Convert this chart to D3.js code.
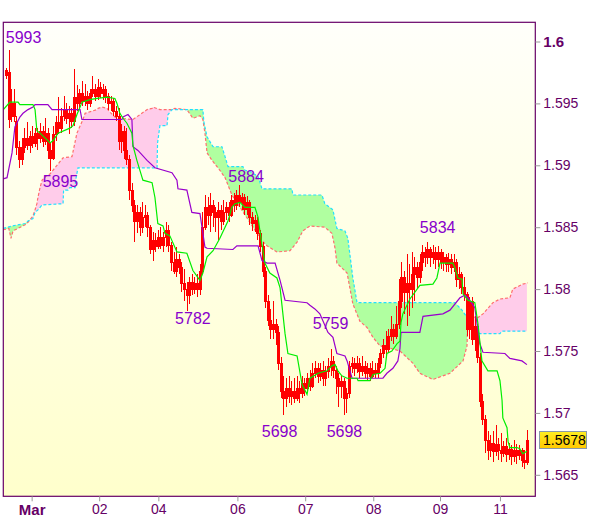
<!DOCTYPE html>
<html><head><meta charset="utf-8">
<script src="https://cdn.jsdelivr.net/npm/d3@7"></script>
<style>body{margin:0;background:#fff}svg{display:block}text{font-family:"Liberation Sans",Arial,sans-serif}</style>
</head><body><svg id="c" width="600" height="519"></svg>
<script>
const open=[1.5973,1.5975,1.5940,1.5950,1.5936,1.5915,1.5905,1.5915,1.5922,1.5916,
1.5924,1.5918,1.5926,1.5922,1.5928,1.5920,1.5926,1.5912,1.5906,1.5925,
1.5935,1.5930,1.5940,1.5945,1.5938,1.5942,1.5936,1.5955,1.5950,1.5958,
1.5952,1.5956,1.5950,1.5958,1.5962,1.5956,1.5963,1.5958,1.5962,1.5956,
1.5950,1.5952,1.5944,1.5940,1.5920,1.5928,1.5912,1.5905,1.5880,1.5868,
1.5855,1.5862,1.5850,1.5858,1.5860,1.5850,1.5832,1.5840,1.5835,1.5842,
1.5836,1.5842,1.5848,1.5836,1.5822,1.5815,1.5824,1.5818,1.5805,1.5800,
1.5795,1.5806,1.5800,1.5805,1.5800,1.5815,1.5850,1.5866,1.5860,1.5868,
1.5862,1.5858,1.5864,1.5855,1.5862,1.5866,1.5860,1.5872,1.5868,1.5876,
1.5870,1.5874,1.5865,1.5870,1.5858,1.5853,1.5856,1.5845,1.5835,1.5815,
1.5790,1.5775,1.5768,1.5772,1.5765,1.5740,1.5718,1.5712,1.5720,1.5714,
1.5718,1.5712,1.5720,1.5716,1.5724,1.5720,1.5728,1.5722,1.5732,1.5736,
1.5730,1.5735,1.5728,1.5734,1.5738,1.5742,1.5735,1.5728,1.5722,1.5726,
1.5712,1.5716,1.5738,1.5740,1.5736,1.5740,1.5734,1.5738,1.5732,1.5736,
1.5730,1.5735,1.5732,1.5740,1.5748,1.5755,1.5752,1.5762,1.5768,1.5762,
1.5772,1.5790,1.5810,1.5798,1.5805,1.5800,1.5812,1.5818,1.5810,1.5822,
1.5830,1.5826,1.5832,1.5826,1.5830,1.5824,1.5830,1.5822,1.5826,1.5820,
1.5824,1.5818,1.5822,1.5808,1.5812,1.5802,1.5796,1.5768,1.5790,1.5760,
1.5770,1.5745,1.5710,1.5695,1.5678,1.5670,1.5676,1.5669,1.5675,1.5670,
1.5668,1.5673,1.5667,1.5671,1.5665,1.5670,1.5666,1.5670,1.5662,1.5660];
const close=[1.5977,1.5937,1.5950,1.5940,1.5915,1.5905,1.5915,1.5922,1.5916,1.5924,
1.5918,1.5926,1.5922,1.5928,1.5920,1.5926,1.5912,1.5906,1.5925,1.5935,
1.5930,1.5940,1.5945,1.5938,1.5942,1.5936,1.5955,1.5950,1.5958,1.5952,
1.5956,1.5950,1.5958,1.5962,1.5956,1.5963,1.5958,1.5962,1.5956,1.5950,
1.5952,1.5944,1.5940,1.5920,1.5928,1.5912,1.5905,1.5880,1.5868,1.5855,
1.5862,1.5850,1.5858,1.5860,1.5850,1.5832,1.5840,1.5835,1.5842,1.5836,
1.5842,1.5848,1.5836,1.5822,1.5815,1.5824,1.5818,1.5805,1.5800,1.5795,
1.5806,1.5800,1.5805,1.5800,1.5815,1.5850,1.5866,1.5860,1.5868,1.5862,
1.5858,1.5864,1.5855,1.5862,1.5866,1.5860,1.5872,1.5868,1.5876,1.5870,
1.5874,1.5865,1.5870,1.5858,1.5853,1.5856,1.5845,1.5835,1.5815,1.5790,
1.5775,1.5768,1.5772,1.5765,1.5740,1.5718,1.5712,1.5720,1.5714,1.5718,
1.5712,1.5720,1.5716,1.5724,1.5720,1.5728,1.5722,1.5732,1.5736,1.5730,
1.5735,1.5728,1.5734,1.5738,1.5742,1.5735,1.5728,1.5722,1.5726,1.5712,
1.5716,1.5738,1.5740,1.5736,1.5740,1.5734,1.5738,1.5732,1.5736,1.5730,
1.5735,1.5732,1.5740,1.5748,1.5755,1.5752,1.5762,1.5768,1.5762,1.5772,
1.5790,1.5810,1.5798,1.5805,1.5800,1.5812,1.5818,1.5810,1.5822,1.5830,
1.5826,1.5832,1.5826,1.5830,1.5824,1.5830,1.5822,1.5826,1.5820,1.5824,
1.5818,1.5822,1.5808,1.5812,1.5802,1.5796,1.5768,1.5790,1.5760,1.5770,
1.5745,1.5710,1.5695,1.5678,1.5670,1.5676,1.5669,1.5675,1.5670,1.5668,
1.5673,1.5667,1.5671,1.5665,1.5670,1.5666,1.5670,1.5662,1.5660,1.5678];
const high=[1.5979,1.5993,1.5962,1.5962,1.5940,1.5920,1.5922,1.5930,1.5935,1.5928,
1.5932,1.5930,1.5930,1.5934,1.5932,1.5938,1.5930,1.5918,1.5932,1.5940,
1.5955,1.5946,1.5956,1.5950,1.5948,1.5946,1.5978,1.5965,1.5962,1.5968,
1.5966,1.5960,1.5962,1.5972,1.5966,1.5970,1.5967,1.5966,1.5964,1.5958,
1.5956,1.5954,1.5948,1.5946,1.5933,1.5932,1.5930,1.5908,1.5886,1.5872,
1.5868,1.5866,1.5870,1.5868,1.5862,1.5852,1.5846,1.5845,1.5848,1.5850,
1.5846,1.5854,1.5852,1.5838,1.5830,1.5834,1.5828,1.5822,1.5816,1.5806,
1.5810,1.5812,1.5810,1.5812,1.5820,1.5862,1.5876,1.5874,1.5878,1.5872,
1.5866,1.5870,1.5868,1.5872,1.5870,1.5870,1.5876,1.5878,1.5880,1.5884,
1.5878,1.5877,1.5875,1.5872,1.5862,1.5860,1.5858,1.5848,1.5838,1.5818,
1.5795,1.5784,1.5790,1.5776,1.5770,1.5745,1.5730,1.5728,1.5730,1.5726,
1.5728,1.5730,1.5726,1.5730,1.5728,1.5732,1.5735,1.5740,1.5742,1.5740,
1.5740,1.5742,1.5738,1.5744,1.5752,1.5746,1.5738,1.5732,1.5730,1.5728,
1.5720,1.5742,1.5745,1.5744,1.5746,1.5744,1.5746,1.5742,1.5740,1.5740,
1.5742,1.5740,1.5744,1.5752,1.5760,1.5766,1.5768,1.5778,1.5772,1.5786,
1.5808,1.5822,1.5815,1.5828,1.5820,1.5830,1.5826,1.5822,1.5828,1.5836,
1.5834,1.5838,1.5834,1.5836,1.5834,1.5835,1.5832,1.5830,1.5828,1.5829,
1.5828,1.5828,1.5824,1.5818,1.5814,1.5810,1.5798,1.5794,1.5794,1.5778,
1.5772,1.5748,1.5715,1.5698,1.5685,1.5682,1.5685,1.5690,1.5680,1.5684,
1.5677,1.5680,1.5676,1.5674,1.5678,1.5675,1.5674,1.5672,1.5670,1.5686];
const low=[1.5970,1.5930,1.5935,1.5935,1.5908,1.5898,1.5900,1.5910,1.5912,1.5910,
1.5914,1.5915,1.5912,1.5918,1.5915,1.5916,1.5905,1.5895,1.5904,1.5920,
1.5925,1.5926,1.5936,1.5933,1.5925,1.5930,1.5932,1.5944,1.5946,1.5948,
1.5948,1.5945,1.5947,1.5955,1.5952,1.5953,1.5954,1.5953,1.5950,1.5945,
1.5944,1.5940,1.5936,1.5912,1.5910,1.5905,1.5900,1.5872,1.5862,1.5838,
1.5845,1.5843,1.5845,1.5850,1.5842,1.5828,1.5823,1.5830,1.5832,1.5832,
1.5830,1.5834,1.5830,1.5815,1.5812,1.5810,1.5812,1.5798,1.5790,1.5782,
1.5788,1.5795,1.5796,1.5794,1.5795,1.5812,1.5848,1.5852,1.5846,1.5850,
1.5846,1.5840,1.5848,1.5852,1.5856,1.5854,1.5858,1.5862,1.5864,1.5866,
1.5864,1.5860,1.5860,1.5852,1.5847,1.5846,1.5840,1.5830,1.5810,1.5785,
1.5770,1.5760,1.5760,1.5755,1.5735,1.5712,1.5698,1.5705,1.5708,1.5706,
1.5708,1.5710,1.5708,1.5712,1.5714,1.5716,1.5718,1.5720,1.5728,1.5724,
1.5726,1.5722,1.5722,1.5728,1.5730,1.5728,1.5715,1.5705,1.5712,1.5698,
1.5700,1.5712,1.5732,1.5730,1.5732,1.5728,1.5730,1.5728,1.5726,1.5726,
1.5728,1.5728,1.5728,1.5736,1.5744,1.5746,1.5748,1.5758,1.5756,1.5760,
1.5768,1.5785,1.5780,1.5770,1.5778,1.5785,1.5790,1.5800,1.5805,1.5815,
1.5818,1.5820,1.5818,1.5820,1.5816,1.5818,1.5816,1.5815,1.5814,1.5814,
1.5812,1.5814,1.5802,1.5800,1.5796,1.5790,1.5762,1.5760,1.5755,1.5750,
1.5740,1.5705,1.5690,1.5668,1.5662,1.5664,1.5660,1.5665,1.5662,1.5660,
1.5664,1.5660,1.5662,1.5658,1.5660,1.5659,1.5662,1.5656,1.5655,1.5658];

// indicator lines: [bar index, price]
const tenkan=[[-1,1.5945],[1.5,1.5951],[4.6,1.5951],[5.3,1.5949],[10.3,1.5949],[11.1,1.5945],[11.8,1.5928],[13,1.5926],[16,1.5920],[16.8,1.5918],[18,1.5920],[19.9,1.5926],[24.4,1.5930],[25.6,1.5932],[27.1,1.5941],[28.3,1.5947],[29,1.5951],[32,1.5953],[34.8,1.5954],[38.6,1.5955],[41.6,1.5954],[42.4,1.5950],[43.5,1.5942],[44.7,1.5938],[46.2,1.5934],[48.1,1.5926],[48.5,1.5916],[50,1.5904],[52,1.5890],[52.3,1.5888],[55.8,1.5886],[56.9,1.5874],[58,1.5853],[60,1.5851],[60.7,1.5845],[62.6,1.5843],[65.3,1.5830],[69.1,1.5829],[71.4,1.5815],[74.1,1.5807],[75.2,1.5813],[76.8,1.5826],[79.1,1.5831],[81.7,1.5841],[84.8,1.5855],[86.3,1.5866],[87.5,1.5869],[89.4,1.5870],[91.3,1.5866],[95.1,1.5866],[96.3,1.5858],[97,1.5847],[98.9,1.5821],[100.8,1.5813],[103.5,1.5809],[104.7,1.5801],[106.6,1.5764],[107.7,1.5748],[111.2,1.5746],[113.1,1.5723],[115,1.5715],[116.1,1.5728],[119.2,1.5732],[122.6,1.5734],[124.5,1.5738],[125.7,1.5739],[126.8,1.5734],[128.3,1.5730],[130.3,1.5728],[134.1,1.5728],[134.5,1.5726],[139,1.5726],[140.2,1.5731],[142.9,1.5732],[144.8,1.5736],[145.5,1.5748],[147.4,1.5750],[149.4,1.5756],[150.5,1.5758],[150.9,1.5773],[151.6,1.5780],[154.3,1.5792],[158.1,1.5803],[163.1,1.5804],[164.6,1.5809],[165.8,1.5821],[170.7,1.5821],[171.5,1.5817],[172.6,1.5809],[174.2,1.5808],[174.6,1.5796],[176.5,1.5791],[179.1,1.5789],[180.3,1.5772],[181.8,1.5742],[184.1,1.5734],[187.6,1.5734],[188.7,1.5726],[189.5,1.5710],[189.8,1.5696],[191.4,1.5688],[191.8,1.5677],[192.5,1.5672],[195.2,1.5672],[196.3,1.5671],[197.4,1.5667],[199,1.5669]];
const kijun=[[-1.1,1.5889],[0.4,1.5890],[2.3,1.5910],[3.4,1.5931],[5.3,1.5939],[6.5,1.5942],[8.4,1.5945],[10.3,1.5947],[11.1,1.5949],[16,1.5949],[17.6,1.5945],[28.3,1.5945],[29,1.5937],[44.3,1.5937],[44.7,1.5939],[46.6,1.5941],[48.1,1.5937],[48.5,1.5915],[50.4,1.5912],[53.9,1.5904],[56.9,1.5898],[63.4,1.5894],[65.3,1.5888],[65.7,1.5881],[69.1,1.5880],[71,1.5862],[74.1,1.5861],[76,1.5834],[76.8,1.5833],[86.7,1.5832],[88.2,1.5835],[96.3,1.5835],[97.8,1.5823],[99.7,1.5821],[102.8,1.5821],[104.7,1.5807],[106.6,1.5791],[115,1.5789],[116.1,1.5787],[118,1.5784],[119.9,1.5780],[123,1.5765],[124.9,1.5761],[126.4,1.5748],[129.5,1.5746],[130.3,1.5742],[132.2,1.5728],[144,1.5728],[145.5,1.5732],[147.8,1.5736],[149.7,1.5742],[150.5,1.5752],[150.9,1.5765],[158.1,1.5765],[159.3,1.5778],[166.9,1.5780],[169.6,1.5783],[173.4,1.5793],[175.3,1.5795],[176.5,1.5793],[179.1,1.5785],[181,1.5756],[182.2,1.5749],[190.6,1.5748],[192.5,1.5744],[197.1,1.5742],[199,1.5739]];
const spanA=[[-1.1,1.5849],[2.3,1.5851],[7.3,1.5853],[8.4,1.5855],[10.3,1.5857],[11.1,1.5862],[12.2,1.5864],[13.8,1.5868],[21.8,1.5869],[22,1.5880],[23.7,1.5880],[24.4,1.5882],[26.4,1.5882],[26.6,1.5888],[27.5,1.5898],[57.7,1.5898],[57.9,1.5918],[58.8,1.5932],[61.5,1.5932],[61.9,1.5941],[63.4,1.5945],[75.2,1.5945],[75.6,1.5935],[76.8,1.5923],[79.1,1.5915],[82.5,1.5915],[84.4,1.5902],[84.8,1.5899],[90.5,1.5899],[91.3,1.5896],[93.2,1.5895],[96.3,1.5891],[97.8,1.5881],[109.2,1.5881],[109.6,1.5876],[120.7,1.5876],[121.8,1.5869],[124.9,1.5864],[126.4,1.5849],[129.5,1.5847],[130.6,1.5841],[132.5,1.5809],[134.1,1.5789],[171.5,1.5789],[174.2,1.5783],[177.2,1.5774],[179.9,1.5766],[181,1.5764],[188.7,1.5764],[189.5,1.5766],[199,1.5766]];
const spanB=[[-1.1,1.5848],[1.1,1.5849],[1.9,1.5841],[2.7,1.5847],[7.3,1.5852],[8.4,1.5854],[10.3,1.5859],[11.1,1.5864],[11.8,1.5869],[12.2,1.5874],[13,1.5882],[13.8,1.5888],[15.7,1.5892],[16.8,1.5893],[21.8,1.5906],[25.2,1.5907],[27.1,1.5926],[29.4,1.5937],[30.2,1.5942],[34.8,1.5945],[35.2,1.5946],[36.7,1.5947],[38.6,1.5946],[39.7,1.5943],[41.6,1.5939],[42.8,1.5938],[48.5,1.5937],[53.9,1.5945],[55.8,1.5946],[56.2,1.5947],[58.8,1.5945],[63.4,1.5945],[64.5,1.5946],[69.1,1.5945],[71.4,1.5938],[74.1,1.5940],[75.2,1.5937],[76,1.5926],[76.8,1.5910],[78.7,1.5904],[81.7,1.5896],[83.7,1.5890],[86.3,1.5876],[97.8,1.5839],[99.7,1.5835],[103.5,1.5830],[108.5,1.5831],[111.2,1.5838],[113.4,1.5847],[116.1,1.5851],[121.8,1.5850],[124.5,1.5845],[125.7,1.5833],[126.4,1.5821],[130.3,1.5813],[132.5,1.5788],[135.2,1.5774],[137.9,1.5769],[140.2,1.5761],[142.9,1.5754],[145.5,1.5753],[150.5,1.5750],[155.5,1.5740],[158.1,1.5732],[163.1,1.5727],[169.6,1.5732],[172.6,1.5738],[174.6,1.5742],[176.1,1.5754],[176.5,1.5778],[180.3,1.5777],[182.2,1.5780],[186,1.5789],[188.7,1.5792],[192.5,1.5793],[193.6,1.5800],[197.4,1.5804],[199.4,1.5805]];

const xTickIdx=[9.8,35.6,58.2,88.4,114.3,140.3,165.8,188.7];
const xTickLabels=["Mar","02","04","06","07","08","09","11"];
const yTicks=[1.565,1.57,1.575,1.58,1.585,1.59,1.595,1.6];
const yTickLabels=["1.565","1.57","1.575","1.58","1.585","1.59","1.595","1.6"];
// annotations: text, bar index (left), price at baseline
const noteText=["5993","5895","5884","5782","5759","5698","5698","5834"];
const noteIdx=[-0.1,14.0,84.9,64.6,117.2,97.7,122.5,158.1];
const notePrice=[1.59988,1.58825,1.58865,1.57718,1.57678,1.56805,1.56805,1.58453];
const lastPrice=1.5678;

const svg=d3.select("#c");
const PL=3.3,PT=22.3,PR=535.3,PB=496.3;
const x=d3.scaleLinear().domain([-1.03,202.2]).range([PL,PR]);
const y=d3.scaleLinear().domain([1.563264,1.601551]).range([PB,PT]);

const defs=svg.append("defs");
const bg=defs.append("linearGradient").attr("id","bg").attr("x1",0).attr("y1",0).attr("x2",0).attr("y2",1);
bg.append("stop").attr("offset","0%").attr("stop-color","#fffffa");
bg.append("stop").attr("offset","100%").attr("stop-color","#ffffcc");
const gl=defs.append("linearGradient").attr("id","gold").attr("x1",0).attr("y1",0).attr("x2",0).attr("y2",1);
gl.append("stop").attr("offset","0%").attr("stop-color","#ffee22");
gl.append("stop").attr("offset","100%").attr("stop-color","#ffc800");
defs.append("clipPath").attr("id","plot").append("rect").attr("x",PL).attr("y",PT).attr("width",PR-PL).attr("height",PB-PT);

const areaAbove=d3.area().x(d=>x(d[0])).y0(PT-5).y1(d=>y(d[1]));
const areaBelow=d3.area().x(d=>x(d[0])).y0(PB+5).y1(d=>y(d[1]));
defs.append("clipPath").attr("id","aboveB").append("path").attr("d",areaAbove(spanB));
defs.append("clipPath").attr("id","aboveA").append("path").attr("d",areaAbove(spanA));

svg.append("rect").attr("x",PL).attr("y",PT).attr("width",PR-PL).attr("height",PB-PT).attr("fill","url(#bg)");

const g=svg.append("g").attr("clip-path","url(#plot)");
// cloud fills
g.append("g").attr("clip-path","url(#aboveB)").append("path").attr("d",areaBelow(spanA)).attr("fill","#b0ffa0");
g.append("g").attr("clip-path","url(#aboveA)").append("path").attr("d",areaBelow(spanB)).attr("fill","#ffccea");
const line=d3.line().x(d=>x(d[0])).y(d=>y(d[1]));
g.append("path").attr("d",line(spanB)).attr("fill","none").attr("stroke","#ff6e6e").attr("stroke-width",1.2).attr("stroke-dasharray","3,2");
g.append("path").attr("d",line(spanA)).attr("fill","none").attr("stroke","#22e0ff").attr("stroke-width",1.2).attr("stroke-dasharray","3,2");

// candles
const bars=d3.range(close.length);
const cg=g.append("g").attr("shape-rendering","crispEdges");
cg.selectAll("line.w").data(bars).join("line").attr("class","w")
 .attr("x1",i=>Math.round(x(i))+0.5).attr("x2",i=>Math.round(x(i))+0.5)
 .attr("y1",i=>y(high[i])).attr("y2",i=>y(low[i])).attr("stroke","#ff0000").attr("stroke-width",1);
cg.selectAll("rect.b").data(bars).join("rect").attr("class","b")
 .attr("x",i=>Math.round(x(i))-0.5).attr("width",2)
 .attr("y",i=>Math.round(y(Math.max(open[i],close[i])))+0.5)
 .attr("height",i=>Math.max(1,Math.round(y(Math.min(open[i],close[i])))-Math.round(y(Math.max(open[i],close[i])))))
 .attr("fill",i=>close[i]>open[i]?"none":"#ff0000").attr("stroke","#ff0000").attr("stroke-width",1);

g.append("path").attr("d",line(kijun)).attr("fill","none").attr("stroke","#9900cc").attr("stroke-width",1.2);
g.append("path").attr("d",line(tenkan)).attr("fill","none").attr("stroke","#00ee00").attr("stroke-width",1.2);

// annotations
svg.append("g").selectAll("text").data(noteText).join("text")
 .attr("x",(d,i)=>x(noteIdx[i])).attr("y",(d,i)=>y(notePrice[i]))
 .attr("font-size",16).attr("fill","#8800cc").text(d=>d);

// frame
svg.append("rect").attr("x",PL).attr("y",PT).attr("width",PR-PL).attr("height",PB-PT)
 .attr("fill","none").attr("stroke","#660066").attr("stroke-width",1.2);

// axes
const ya=svg.append("g").attr("transform",`translate(${PR},0)`)
 .call(d3.axisRight(y).tickValues(yTicks).tickFormat((d,i)=>yTickLabels[i]).tickSize(5).tickPadding(3));
ya.select(".domain").remove();
ya.selectAll("line").attr("stroke","#999999");
ya.selectAll("text").attr("fill","#660066").attr("font-size",14).attr("font-family","Liberation Sans, Arial, sans-serif")
 .attr("font-weight",(d,i)=>yTickLabels[i]==="1.6"?"bold":"normal").attr("font-size",(d,i)=>yTickLabels[i]==="1.6"?15:14);

const xa=svg.append("g").attr("transform",`translate(0,${PB})`)
 .call(d3.axisBottom(x).tickValues(xTickIdx).tickFormat((d,i)=>xTickLabels[i]).tickSize(5).tickPadding(3));
xa.select(".domain").remove();
xa.selectAll("line").attr("stroke","#999999");
xa.selectAll("text").attr("fill","#660066").attr("font-family","Liberation Sans, Arial, sans-serif")
 .attr("font-weight",(d,i)=>i===0?"bold":"normal").attr("font-size",(d,i)=>i===0?15:14);

// last price tag
const ly=y(lastPrice);
svg.append("rect").attr("x",539.5).attr("y",Math.round(ly)-8.5).attr("width",47).attr("height",17)
 .attr("fill","url(#gold)").attr("stroke","#8899aa").attr("stroke-width",1);
svg.append("text").attr("x",543).attr("y",ly).attr("dy","0.35em").attr("font-size",14).attr("fill","#000").text(String(lastPrice));
</script></body></html>
